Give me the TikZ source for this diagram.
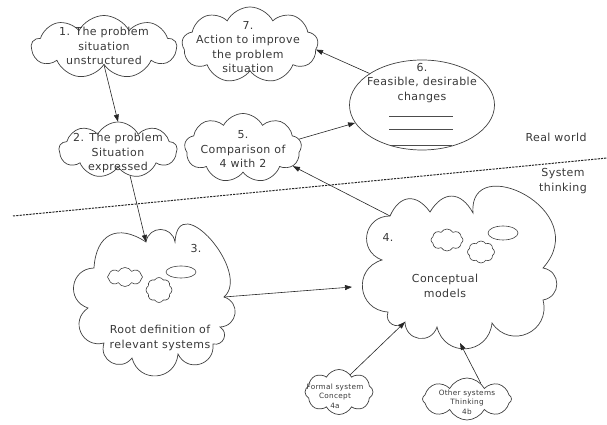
\documentclass[tikz,border=0pt]{standalone}
\usepackage{fontspec}
\setmainfont{DejaVu Sans}[LetterSpace=4]
\usetikzlibrary{shapes.symbols,shapes.geometric,arrows.meta}

\begin{document}
\begin{tikzpicture}[x=1pt,y=1pt,
  outline/.style={draw=black!75, line width=0.7pt},
  puffy/.style={outline, shape=cloud, cloud puffs=9, cloud puff arc=125,
    cloud ignores aspect, inner sep=0pt},
  tiny/.style={outline, line width=0.6pt, shape=cloud, cloud puffs=8,
    cloud puff arc=120, cloud ignores aspect, inner sep=0pt},
  blob/.style={outline, line width=0.6pt, ellipse, inner sep=0pt},
  txt/.style={font=\fontsize{11}{14.5}\selectfont, text=black!78,
    align=center, inner sep=0pt},
  small/.style={font=\fontsize{7.3}{9.6}\selectfont, text=black!78,
    align=center, inner sep=0pt},
  link/.style={draw=black!85, line width=0.6pt,
    -{Triangle[length=7pt,width=5pt]}},
  lobe/.style={bend left=#1, looseness=1.5},
  lobe/.default=80,
  rule/.style={draw=black!70, line width=0.5pt},
  border/.style={draw=black!85, line width=1pt, dash pattern=on 2.2pt off 1.1pt}
]
\useasboundingbox (0,0) rectangle (607,425);

% ---------- real world ----------
\node[puffy, minimum width=145, minimum height=63] (c1) at (104,378) {};
\node[txt] (t1) at (104,379) {1. The problem\\situation\\unstructured};

\node[puffy, minimum width=136, minimum height=76] (c7) at (250,380) {};
\node[txt] (t7) at (248,378) {7.\\Action to improve\\the problem\\situation};

\node[puffy, minimum width=118, minimum height=56] (c2) at (118,275) {};
\node[txt] (t2) at (118,272) {2. The problem\\Situation\\expressed};

\node[puffy, minimum width=117, minimum height=69] (c5) at (243,277) {};
\node[txt] (t5) at (243,276) {5.\\Comparison of\\4 with 2};

\node[outline, ellipse, minimum width=145, minimum height=90, inner sep=0pt]
  (e6) at (422,320) {};
\node[txt] (t6) at (422,342) {6.\\Feasible, desirable\\changes};
\coordinate (r1a) at (389,309); \coordinate (r1b) at (453,309);
\coordinate (r2a) at (389,296); \coordinate (r2b) at (453,296);
\coordinate (r3a) at (391,280); \coordinate (r3b) at (452,280);
\draw[rule] (r1a) -- (r1b);
\draw[rule] (r2a) -- (r2b);
\draw[rule] (r3a) -- (r3b);

\node[txt] (rw) at (556,288) {Real world};
\node[txt] (st) at (563,244) {System\\thinking};

% ---------- boundary between the two worlds ----------
\coordinate (dl) at (13,209);
\coordinate (dr) at (607,267);
\draw[border] (dl) -- (dr);

% ---------- cloud 3: root definitions ----------
\coordinate (v1) at (146,183);
\coordinate (v2) at (175,183);
\coordinate (v3) at (224,128);
\coordinate (v4) at (220,98);
\coordinate (v5) at (213,81);
\coordinate (v6) at (178,71);
\coordinate (v7) at (132,67);
\coordinate (v8) at (104,82);
\coordinate (v9) at (88,117);
\coordinate (v10) at (94,157);
\draw[outline] (v1) to[lobe] (v2)
  .. controls (178,238) and (252,152) .. (v3)
  to[lobe] (v4) to[lobe] (v5) to[lobe] (v6) to[lobe] (v7)
  to[lobe] (v8) to[lobe] (v9) to[lobe] (v10) to[lobe=60] (v1) -- cycle;
\node[txt] (t3n) at (196,177) {3.};
\node[tiny, minimum width=35, minimum height=19] (k3a) at (125,148) {};
\node[tiny, minimum width=26, minimum height=25] (k3b) at (159,135) {};
\node[blob, minimum width=30, minimum height=12] (k3c) at (181,153) {};
\node[txt] (t3) at (160,87) {Root definition of\\relevant systems};

% ---------- cloud 4: conceptual models ----------
\coordinate (w1) at (390,209);
\coordinate (w2) at (430,213);
\coordinate (w3) at (473,212);
\coordinate (w4) at (543,157);
\coordinate (w5) at (543,125);
\coordinate (w6) at (492,102);
\coordinate (w7) at (437,98);
\coordinate (w8) at (405,103);
\coordinate (w9) at (388,113);
\coordinate (w10) at (382,165);
\draw[outline] (w1) to[lobe=60] (w2) to[lobe=60] (w3)
  .. controls (468,275) and (595,215) .. (w4)
  to[lobe] (w5) to[lobe] (w6) to[lobe] (w7) to[lobe] (w8)
  to[lobe] (w9) to[lobe] (w10) to[lobe] (w1) -- cycle;
\node[txt] (t4n) at (388,188) {4.};
\node[tiny, minimum width=32, minimum height=22] (k4a) at (447,185) {};
\node[tiny, minimum width=27, minimum height=22] (k4b) at (481,173) {};
\node[blob, minimum width=30, minimum height=14] (k4c) at (503,192) {};
\node[txt] (t4) at (445,139) {Conceptual\\models};
\coordinate (c4w) at (352,138);
\coordinate (c4s) at (460,82);

% ---------- sources of systems thinking ----------
\node[puffy, cloud puffs=8, minimum width=68, minimum height=45] (c4a) at (339,33) {};
\node[small] (t4a) at (335,29) {Formal system\\Concept\\4a};
\node[puffy, cloud puffs=8, minimum width=89, minimum height=42] (c4b) at (467,26) {};
\node[small] (t4b) at (467,23) {Other systems\\Thinking\\4b};

% ---------- connectors ----------
\draw[link] (c1.south) -- (c2.north);
\draw[link] (c2.-65) -- (v1);
\draw[link] (v3) -- (c4w);
\draw[link] (w1) -- (c5.-20);
\draw[link] (c5.9) -- (e6.195);
\draw[link] (e6.149) -- (c7.-4);
\draw[link] (c4a.57) -- (w8);
\draw[link] (c4b.49) -- (c4s);
\end{tikzpicture}
\end{document}
